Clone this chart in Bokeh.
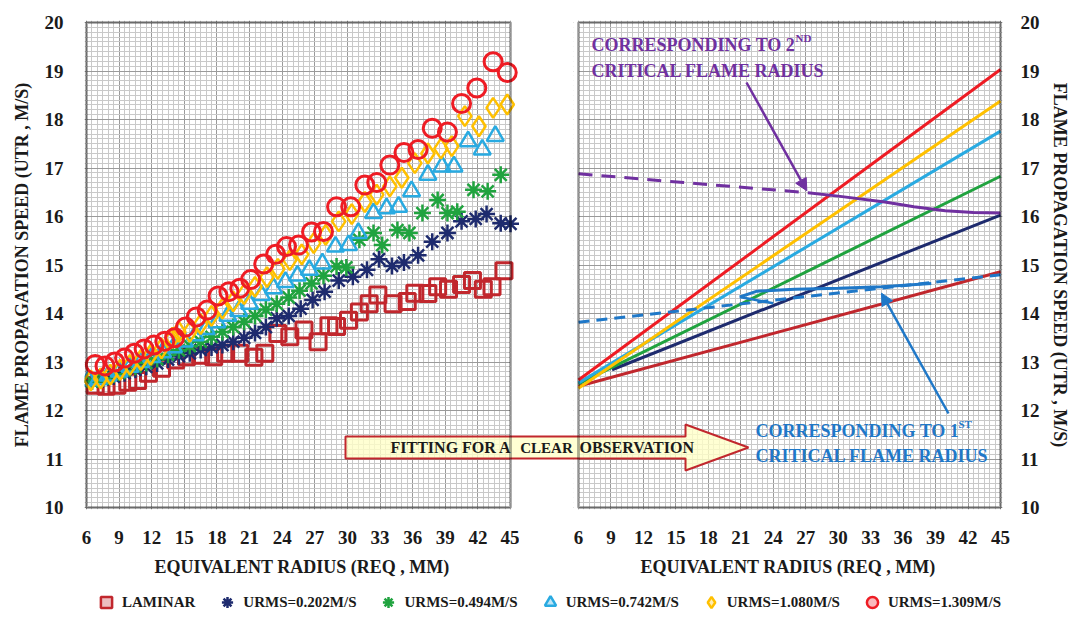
from bokeh.plotting import figure
from bokeh.layouts import row, column
from bokeh.models import (Range1d, SingleIntervalTicker, FixedTicker, Legend, LegendItem, Label,
                          Arrow, NormalHead, BoxAnnotation)
from bokeh.embed import file_html
from bokeh.resources import INLINE

FONT = "Liberation Serif"

# ---------------- data (left panel: measured flame speed) ----------------
lam_x = [6.8, 7.8, 8.8, 9.8, 10.7, 11.7, 12.9, 14.2, 15.2, 16.5, 17.7, 18.8, 20.1, 21.4, 22.4, 23.6,
         24.7, 26.0, 27.3, 28.3, 29.0, 30.1, 31.1, 32.0, 32.8, 34.2, 35.5, 36.2, 37.4, 38.3, 39.3,
         40.5, 41.5, 42.5, 43.3, 44.4]
lam_y = [12.52, 12.50, 12.52, 12.58, 12.62, 12.77, 12.87, 13.04, 13.11, 13.14, 13.11, 13.18, 13.18,
         13.10, 13.18, 13.59, 13.52, 13.66, 13.42, 13.75, 13.73, 13.86, 14.03, 14.20, 14.38, 14.20,
         14.25, 14.42, 14.41, 14.55, 14.50, 14.60, 14.68, 14.50, 14.55, 14.88]

u202_x = [6.5, 7.5, 8.5, 9.5, 10.5, 11.5, 12.5, 13.5, 14.5, 15.5, 16.5, 17.5, 18.5, 19.5, 20.5, 21.5,
          22.5, 23.5, 24.6, 25.7, 26.8, 27.9, 29.2, 30.5, 31.8, 32.9, 34.1, 35.2, 36.5, 37.8, 39.2,
          40.5, 41.8, 42.8, 44.1, 45.0]
u202_y = [12.60, 12.64, 12.70, 12.77, 12.84, 12.90, 12.97, 13.05, 13.12, 13.18, 13.25, 13.30, 13.35,
          13.42, 13.50, 13.60, 13.72, 13.90, 13.95, 14.10, 14.28, 14.45, 14.68, 14.76, 14.90, 15.12,
          14.98, 15.05, 15.20, 15.48, 15.66, 15.90, 15.95, 16.05, 15.86, 15.85]

u494_x = [6.5, 7.5, 8.5, 9.5, 10.5, 11.5, 12.5, 13.5, 14.5, 15.5, 16.5, 17.5, 18.5, 19.5, 20.5, 21.5,
          22.5, 23.5, 24.6, 25.6, 26.7, 27.8, 29.0, 29.9, 31.1, 32.4, 33.2, 34.6, 35.7, 36.9, 38.3,
          39.2, 40.1, 41.6, 42.9, 44.1]
u494_y = [12.60, 12.66, 12.74, 12.82, 12.90, 12.98, 13.06, 13.15, 13.24, 13.33, 13.42, 13.52, 13.62,
          13.72, 13.83, 13.95, 14.08, 14.20, 14.33, 14.47, 14.62, 14.78, 14.97, 14.95, 15.52, 15.66,
          15.41, 15.72, 15.66, 16.07, 16.34, 16.07, 16.10, 16.55, 16.52, 16.86]

u742_x = [6.2, 7.1, 8.0, 9.0, 10.0, 11.0, 12.0, 13.0, 14.0, 15.0, 16.0, 17.0, 18.0, 19.0, 20.0, 21.0,
          22.1, 23.2, 24.3, 25.4, 26.5, 27.7, 28.9, 30.1, 31.0, 32.4, 33.6, 34.7, 35.9, 37.4, 38.7,
          39.8, 41.1, 42.4, 43.6]
u742_y = [12.62, 12.64, 12.72, 12.80, 12.90, 13.00, 13.10, 13.20, 13.30, 13.42, 13.55, 13.68, 13.82,
          13.95, 14.05, 14.20, 14.38, 14.52, 14.65, 14.78, 14.90, 15.03, 15.38, 15.41, 15.66, 16.07,
          16.17, 16.20, 16.52, 16.86, 17.03, 17.03, 17.55, 17.38, 17.66]

u1080_x = [6.4, 7.3, 8.2, 9.1, 10.0, 11.0, 11.9, 12.9, 13.9, 14.5, 15.5, 16.5, 17.5, 18.5, 19.5, 20.5,
           21.5, 22.6, 23.6, 24.7, 25.8, 26.9, 28.0, 29.2, 30.4, 31.6, 32.7, 33.9, 35.0, 36.2, 37.4,
           38.6, 39.6, 40.8, 42.1, 43.4, 44.7]
u1080_y = [12.62, 12.66, 12.74, 12.84, 12.94, 13.04, 13.15, 13.28, 13.50, 13.62, 13.62, 13.78, 13.95,
           14.10, 14.25, 14.40, 14.55, 14.75, 14.92, 15.10, 15.22, 15.45, 15.62, 15.90, 16.05, 16.30,
           16.45, 16.62, 16.80, 17.10, 17.30, 17.40, 17.45, 18.07, 17.86, 18.24, 18.31]

u1309_x = [6.8, 7.7, 8.6, 9.5, 10.4, 11.3, 12.2, 13.2, 14.1, 15.1, 16.1, 17.1, 18.1, 19.1, 20.1, 21.1,
           22.3, 23.4, 24.4, 25.5, 26.7, 27.8, 29.0, 30.3, 31.6, 32.7, 33.9, 35.2, 36.5, 37.8, 39.2,
           40.5, 41.9, 43.4, 44.7]
u1309_y = [12.95, 12.92, 13.00, 13.08, 13.18, 13.27, 13.35, 13.43, 13.50, 13.72, 13.93, 14.07, 14.36,
           14.45, 14.52, 14.70, 15.02, 15.22, 15.38, 15.41, 15.68, 15.69, 16.20, 16.20, 16.65, 16.70,
           17.06, 17.32, 17.38, 17.82, 17.74, 18.33, 18.65, 19.19, 18.97]

# ---------------- data (right panel: linear fits) ----------------
fit_x = [6, 45]
fit_lam = [12.50, 14.86]
fit_202_x = [9.1, 45]
fit_202 = [12.84, 16.03]
fit_494 = [12.55, 16.83]
fit_742 = [12.57, 17.76]
fit_1080 = [12.46, 18.38]
fit_1309 = [12.63, 19.03]

# critical flame radius traces
crit1_dash_x = [6, 45]
crit1_dash_y = [13.82, 14.80]
crit1_x = [20.9, 22.5, 26.0, 30.0, 34.0, 38.6]
crit1_y = [14.34, 14.46, 14.50, 14.52, 14.55, 14.62]
crit1_branch_x = [20.9, 24.0]
crit1_branch_y = [14.34, 14.21]
crit2_dash_x = [6, 27.2]
crit2_dash_y = [16.88, 16.49]
crit2_x = [27.2, 30.0, 34.3, 37.0, 39.9, 42.5, 45.0]
crit2_y = [16.49, 16.42, 16.30, 16.20, 16.12, 16.08, 16.07]

x_ticks = list(range(6, 46, 3))
x_minor = [6 + 0.5 * i for i in range(79)]
legend_labels = ["LAMINAR", "URMS=0.202M/S", "URMS=0.494M/S", "URMS=0.742M/S",
                 "URMS=1.080M/S", "URMS=1.309M/S"]
x_title = "EQUIVALENT RADIUS (REQ , MM)"
y_title = "FLAME PROPAGATION SPEED (UTR , M/S)"

C_LAM, C_202, C_494, C_742, C_1080, C_1309 = "#C1272D", "#1E2B6E", "#20A33F", "#29AAE1", "#FFC000", "#EE1C24"
C_PURPLE, C_BLUE = "#7030A0", "#1F78C8"

series = [
    (legend_labels[0], lam_x, lam_y, "square", C_LAM, 16, 3),
    (legend_labels[1], u202_x, u202_y, "asterisk", C_202, 17, 2.5),
    (legend_labels[2], u494_x, u494_y, "asterisk", C_494, 17, 2.5),
    (legend_labels[3], u742_x, u742_y, "triangle", C_742, 17, 2.5),
    (legend_labels[4], u1080_x, u1080_y, "diamond", C_1080, 20, 2.5),
    (legend_labels[5], u1309_x, u1309_y, "circle", C_1309, 18, 3),
]

# ---------------- layout geometry (page pixels) ----------------
P1_L, P1_R = 86, 510          # left panel border
P2_L, P2_R = 578, 1000        # right panel border
P_T, P_B = 22, 507            # top / bottom border
PAD = 2                       # frame slightly larger than the drawn border
GAP_L, GAP_R = 519, 573       # strip between the two panels
BOTTOM = 70
K1 = 39 / (P1_R - P1_L)
K2 = 39 / (P2_R - P2_L)
KY = 10 / (P_B - P_T)


def p1x(px):
    return 6 + (px - P1_L) * K1


def p2x(px):
    return 6 + (px - P2_L) * K2


def py(v):
    return 20 - (v - P_T) * KY


def style(p):
    p.outline_line_color = None
    p.xaxis.ticker = FixedTicker(ticks=x_ticks, minor_ticks=x_minor)
    p.yaxis.ticker = SingleIntervalTicker(interval=1, num_minor_ticks=10)
    for g in (p.xgrid, p.ygrid):
        g.grid_line_color = "#9a9a9a"
        g.grid_line_width = 1
        g.minor_grid_line_color = "#c9c9c9"
        g.minor_grid_line_width = 1
    for ax in (p.xaxis, p.yaxis):
        ax.axis_line_color = None
        ax.major_tick_line_color = None
        ax.minor_tick_line_color = None
        ax.major_label_text_font = FONT
        ax.major_label_text_font_style = "bold"
        ax.major_label_text_font_size = "19px"
        ax.major_label_text_color = "#1a1a1a"
        ax.axis_label_text_font = FONT
        ax.axis_label_text_font_style = "bold"
        ax.axis_label_text_font_size = "18px"
        ax.axis_label_text_color = "#1a1a1a"
    p.xaxis.axis_label = x_title
    p.yaxis.axis_label = y_title
    p.xaxis.major_label_standoff = 15
    p.xaxis.axis_label_standoff = 10
    p.background_fill_color = "white"
    p.add_layout(BoxAnnotation(left=6, right=45, bottom=10, top=20, fill_alpha=0,
                               line_color="black", line_width=3, level="overlay"))


yr = (10 - PAD * KY, 20 + PAD * KY)
FH = (P_B - P_T) + 2 * PAD

p1 = figure(frame_width=GAP_L - (P1_L - PAD), frame_height=FH, min_border_left=P1_L - PAD,
            min_border_right=0, min_border_top=P_T - PAD, min_border_bottom=BOTTOM,
            x_range=Range1d(6 - PAD * K1, p1x(GAP_L)), y_range=Range1d(*yr),
            toolbar_location=None, output_backend="svg")
style(p1)
p1.yaxis.major_label_standoff = 15
p1.yaxis.axis_label_standoff = 10
p1.add_layout(BoxAnnotation(left=45, fill_color="white", fill_alpha=1, line_color=None,
                            level="underlay"))

for name, xs, ys, marker, color, size, lw in series:
    p1.scatter(xs, ys, marker=marker, size=size, line_color=color, line_width=lw,
               fill_color=None)

p2 = figure(frame_width=(P2_R + PAD) - GAP_R, frame_height=FH, min_border_left=0,
            min_border_right=70, min_border_top=P_T - PAD, min_border_bottom=BOTTOM,
            x_range=Range1d(p2x(GAP_R), 45 + PAD * K2), y_range=Range1d(*yr),
            y_axis_location="right", toolbar_location=None, output_backend="svg")
style(p2)
p2.yaxis.major_label_standoff = 12
p2.yaxis.axis_label_standoff = 7
p2.add_layout(BoxAnnotation(right=6, fill_color="white", fill_alpha=1, line_color=None,
                            level="underlay"))

p2.line(fit_x, fit_lam, line_color=C_LAM, line_width=3)
p2.line(fit_202_x, fit_202, line_color=C_202, line_width=3)
p2.line(fit_x, fit_494, line_color=C_494, line_width=3)
p2.line(fit_x, fit_742, line_color=C_742, line_width=3)
p2.line(fit_x, fit_1080, line_color=C_1080, line_width=3)
p2.line(fit_x, fit_1309, line_color=C_1309, line_width=3)

p2.line(crit2_dash_x, crit2_dash_y, line_color=C_PURPLE, line_width=3, line_dash="14 9")
p2.line(crit2_x, crit2_y, line_color=C_PURPLE, line_width=3)
p2.line(crit1_dash_x, crit1_dash_y, line_color=C_BLUE, line_width=3, line_dash="11 7")
p2.line(crit1_x, crit1_y, line_color=C_BLUE, line_width=3)
p2.line(crit1_branch_x, crit1_branch_y, line_color=C_BLUE, line_width=2.5)

p2.add_layout(Arrow(x_start=p2x(746), y_start=py(82), x_end=27.1, y_end=16.53, line_color=C_PURPLE,
                    line_width=2.5, end=NormalHead(size=12, fill_color=C_PURPLE, line_color=C_PURPLE)))
p2.add_layout(Arrow(x_start=p2x(948), y_start=py(413), x_end=34.0, y_end=14.42, line_color=C_BLUE,
                    line_width=2.5, end=NormalHead(size=12, fill_color=C_BLUE, line_color=C_BLUE)))

ann = dict(text_font=FONT, text_font_style="bold", text_font_size="18px", text_baseline="middle")
sup = dict(text_font=FONT, text_font_style="bold", text_font_size="11px", text_baseline="middle")
p2.add_layout(Label(x=p2x(591), y=py(44), text="CORRESPONDING TO 2", text_color=C_PURPLE, **ann))
p2.add_layout(Label(x=p2x(795), y=py(37), text="ND", text_color=C_PURPLE, **sup))
p2.add_layout(Label(x=p2x(591), y=py(70), text="CRITICAL FLAME RADIUS", text_color=C_PURPLE, **ann))
p2.add_layout(Label(x=p2x(755), y=py(430), text="CORRESPONDING TO 1", text_color=C_BLUE, **ann))
p2.add_layout(Label(x=p2x(958), y=py(423), text="ST", text_color=C_BLUE, **sup))
p2.add_layout(Label(x=p2x(755), y=py(455), text="CRITICAL FLAME RADIUS", text_color=C_BLUE, **ann))

# strip between the panels: same vertical structure as the panels, x in page pixels
gap = figure(frame_width=GAP_R - GAP_L, frame_height=FH, min_border_left=0, min_border_right=0,
             min_border_top=P_T - PAD, min_border_bottom=BOTTOM, title=None,
             x_range=Range1d(GAP_L, GAP_R), y_range=Range1d(*yr),
             x_axis_location=None, y_axis_location=None,
             toolbar_location=None, output_backend="svg")
gap.grid.visible = False
gap.outline_line_color = None

# block arrow "Fitting for a clear observation" spanning both panels (page pixel outline)
arrow_px = [345, 685, 685, 748, 685, 685, 345]
arrow_py = [436, 436, 424, 447, 470, 458, 458]
arrow_style = dict(fill_color="#FFFFC8", fill_alpha=0.8, line_color="#C1272D", line_width=2,
                   level="overlay")
arrow_y = [py(v) for v in arrow_py]
p1.patch([p1x(v) for v in arrow_px], arrow_y, **arrow_style)
p2.patch([p2x(v) for v in arrow_px], arrow_y, **arrow_style)
gap.patch(arrow_px, arrow_y, **arrow_style)

fit_txt = dict(text_font=FONT, text_font_style="bold", text_baseline="middle",
               text_color="#1a1a1a", level="overlay")
p1.add_layout(Label(x=p1x(390), y=py(447), text="FITTING FOR A", text_font_size="16px", **fit_txt))
gap.add_layout(Label(x=(GAP_L + GAP_R) / 2, y=py(447), text="CLEAR", text_align="center",
                     text_font_size="15px", **fit_txt))
p2.add_layout(Label(x=p2x(579), y=py(447), text="OBSERVATION", text_font_size="16px", **fit_txt))

# legend strip
leg = figure(width=1072, height=41, x_range=Range1d(0, 1), y_range=Range1d(0, 1),
             x_axis_location=None, y_axis_location=None, toolbar_location=None,
             output_backend="svg", min_border=0)
leg.grid.visible = False
leg.outline_line_color = None
items = []
for name, xs, ys, marker, color, size, lw in series:
    r = leg.scatter([-5], [-5], marker=marker, size=12, line_color=color, line_width=2.5,
                    fill_color=color, fill_alpha=0.3)
    items.append(LegendItem(label=name, renderers=[r]))
legend = Legend(items=items, orientation="horizontal", location=(92, 4), spacing=18, padding=0,
                margin=0, border_line_color=None, background_fill_alpha=0, label_text_font=FONT,
                label_text_font_style="bold", label_text_font_size="15px", glyph_width=28,
                glyph_height=28, label_standoff=2, label_text_color="#1a1a1a")
leg.add_layout(legend)

layout = column(row(p1, gap, p2), leg)
open("out.html", "w").write(file_html(layout, INLINE))
